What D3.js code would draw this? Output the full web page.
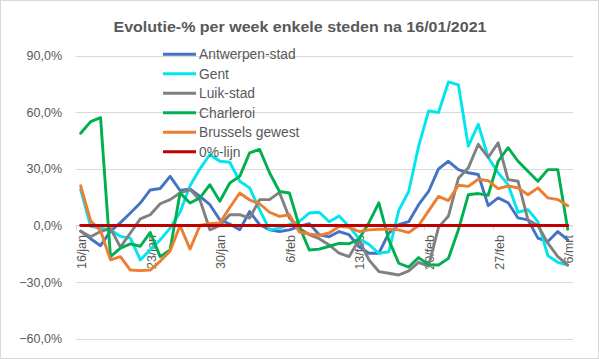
<!DOCTYPE html>
<html><head><meta charset="utf-8">
<script src="https://cdn.jsdelivr.net/npm/d3@7"></script>
<style>body{margin:0;background:#fff}svg{display:block;font-family:"Liberation Sans",Arial,sans-serif}</style>
</head><body><svg id="c" width="599" height="359"></svg>
<script>
const categories = ["16/jan","17/jan","18/jan","19/jan","20/jan","21/jan","22/jan","23/jan","24/jan","25/jan","26/jan","27/jan","28/jan","29/jan","30/jan","31/jan",
 "1/feb","2/feb","3/feb","4/feb","5/feb","6/feb","7/feb","8/feb","9/feb","10/feb","11/feb","12/feb","13/feb","14/feb","15/feb","16/feb","17/feb","18/feb","19/feb","20/feb",
 "21/feb","22/feb","23/feb","24/feb","25/feb","26/feb","27/feb","28/feb","1/mrt","2/mrt","3/mrt","4/mrt","5/mrt","6/mrt"];
const tickLabels = ["16/jan","23/jan","30/jan","6/feb","13/feb","20/feb","27/feb","6/mrt"];
const yTicks = [-60,-30,0,30,60,90];
const antwerpen = [-3,-7,-10.7,-3,1.5,6.6,11.9,18.8,19.6,26,18.5,19.4,15.4,11,3,0.8,-2.3,7.4,0.4,-2.3,-3.2,-2.3,-0.5,1,-4.9,-6,-3.2,-4.9,-11.2,-14.7,-14.7,-4,0.4,2,11,18,30,34,29.6,27.9,27,10.5,14.6,12,4,3,-6.7,-8.5,-3.2,-7.6];
const gent = [19,-0.5,-1.4,-2.3,-5.8,-6.7,-18.2,-12.9,-7.6,-1.4,7,21,30,37.6,34,33.5,23.4,19.9,8.4,-2.3,-1.4,0.4,2.1,6.6,7,2,5,-0.5,-7,-10,-14.7,-14,8,18,42,60.6,59.8,76,74.5,42,53.6,36,27.9,21.6,7,8.4,2,-16,-19.5,-21];
const luik = [-3,-6,-3.2,-1.5,-11.5,-4,3.5,5.7,11.5,13.7,17.2,19,13.5,-2.3,0,5.7,5.7,3.9,13.7,13.7,17.5,4,-1.5,-4.9,-7,-10.3,-14.7,-16.5,-7.6,-18.2,-24.4,-25.3,-26.2,-24,-19.5,-21.5,-1,5,25,30.5,43,36,43.8,24.3,23.4,3,0,-9.4,-16.5,-21];
const charleroi = [48.8,55,57.1,-16.5,-12,-9.7,-11,-3.7,-16.5,-12.9,17.2,11.9,14.6,21.6,12.8,22.5,26,38.5,40.3,27.9,18,17.2,-0.5,-13,-12.5,-11,-9.5,-9.7,-7.2,1.5,12,-7.6,-20,-22,-17,-20.7,-20.9,-17.4,-2.3,16.3,16.9,16,34,41.2,34,28.7,23.4,29.6,29.6,-2];
const brussel = [21,2.5,-2.8,-18.2,-16.5,-23.6,-23.9,-23.6,-19,-13.5,0,-12.5,0,1,1.3,9.5,17.2,13.5,11.5,7,4.8,5.7,-3.5,-4.5,-5.2,-4,-0.5,-1,-3.2,-2.3,-2,-2,-2.3,-3.8,0,7.7,15.4,13.2,21.3,20.7,24.5,23.7,19.5,20.9,19.9,16.3,19.9,14.6,13.7,10.5];
const nullijn = categories.map(() => 0);
const seriesNames = ["Antwerpen-stad","Gent","Luik-stad","Charleroi","Brussels gewest","0%-lijn"];
const seriesColors = ["#4472C4","#00E5EE","#808080","#00B050","#ED7D31","#C00000"];
const seriesValues = [antwerpen,gent,luik,charleroi,brussel,nullijn];

const svg = d3.select("#c");
svg.append("rect").attr("x",0.5).attr("y",0.5).attr("width",598).attr("height",358).attr("fill","#fff").attr("stroke","#d9d9d9");

const x = d3.scaleBand().domain(categories).range([75.7,572.7]);
const y = d3.scaleLinear().domain([-60,90]).range([338.8,55.5]);
const cx = d => x(d) + x.bandwidth()/2;
const loc = d3.formatLocale({decimal:",",thousands:".",grouping:[3],currency:["","€"]});
const fmt = v => loc.format(".1f")(v) + "%";

// gridlines
svg.append("g").selectAll("line").data(yTicks).join("line")
  .attr("x1",75.7).attr("x2",573).attr("y1",d=>Math.round(y(d))+0.5).attr("y2",d=>Math.round(y(d))+0.5)
  .attr("stroke","#d9d9d9").attr("stroke-width",1);

// y labels
const yAxis = d3.axisLeft(y).tickValues(yTicks).tickFormat(fmt).tickSize(0).tickPadding(0);
const gy = svg.append("g").attr("transform","translate(62,0)").call(yAxis);
gy.select(".domain").remove();
gy.selectAll("text").attr("fill","#595959").style("font-size","12.5px").style("font-family","'Liberation Sans',Arial,sans-serif");

// x axis at 0
const xAxis = d3.axisBottom(x).tickValues(tickLabels).tickSize(0).tickPadding(0);
const gx = svg.append("g").attr("transform",`translate(0,${y(0)})`).call(xAxis);
gx.select(".domain").attr("stroke","#d9d9d9");
gx.selectAll(".tick line").remove();
gx.selectAll(".tick text")
  .attr("transform","translate(1,9.5) rotate(-90)")
  .attr("text-anchor","end").attr("x",0).attr("y",0).attr("dy","0.35em")
  .attr("fill","#595959").style("font-size","12.5px").style("font-family","'Liberation Sans',Arial,sans-serif");
// tick marks at category boundaries
svg.append("g").selectAll("line").data(tickLabels).join("line")
  .attr("x1",d=>Math.round(x(d))+0.5).attr("x2",d=>Math.round(x(d))+0.5)
  .attr("y1",y(0)).attr("y2",y(0)+5).attr("stroke","#d9d9d9");

// lines
const line = d3.line().x((v,i)=>cx(categories[i])).y(v=>y(v));
seriesValues.forEach((vals,k)=>{
  svg.append("path").datum(vals).attr("d",line).attr("fill","none")
    .attr("stroke",seriesColors[k]).attr("stroke-width",2.9).attr("stroke-linejoin","round").attr("stroke-linecap","round");
});

// legend
const lg = svg.append("g");
seriesNames.forEach((n,k)=>{
  const yy = 54.3 + k*19.5;
  lg.append("line").attr("x1",163).attr("x2",196).attr("y1",yy).attr("y2",yy).attr("stroke",seriesColors[k]).attr("stroke-width",2.9);
  lg.append("text").attr("x",199).attr("y",yy).attr("dy","0.35em").attr("fill","#595959").style("font-size","13.8px").text(n);
});

// title
svg.append("text").attr("x",300).attr("y",32).attr("text-anchor","middle").attr("fill","#595959")
  .style("font-size","15.5px").style("font-weight","bold").attr("textLength",373).attr("lengthAdjust","spacingAndGlyphs")
  .text("Evolutie-% per week enkele steden na 16/01/2021");
</script></body></html>
